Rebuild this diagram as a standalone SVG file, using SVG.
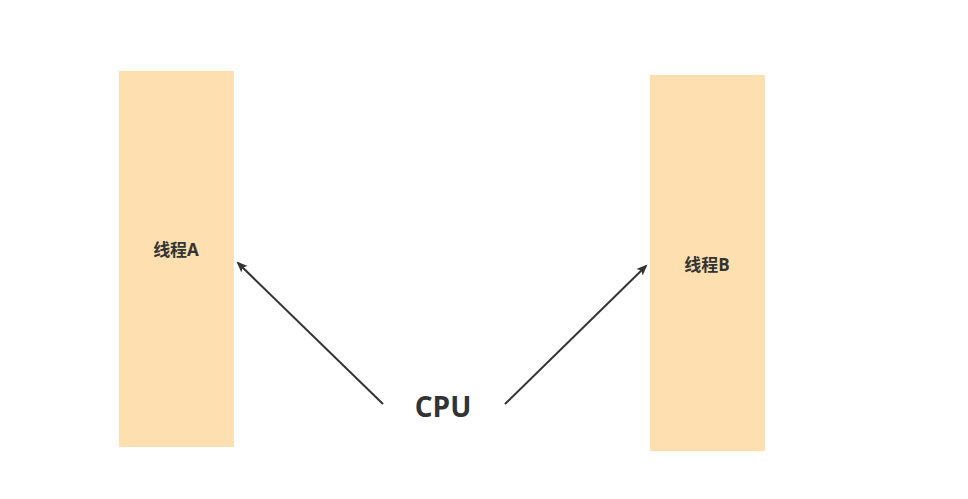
<svg xmlns="http://www.w3.org/2000/svg" width="968" height="499" viewBox="0 0 968 499">
<style>
.box{fill:#FDDFB0;stroke:none}
.lbl{font-family:"Open Sans","Noto Sans CJK SC",sans-serif;font-weight:bold;font-size:17px;fill:#333;text-anchor:middle}
.cpu{font-family:"Open Sans","Noto Sans CJK SC",sans-serif;font-weight:bold;font-size:28px;fill:#333;text-anchor:middle}
.edge{stroke:#333;stroke-width:2;fill:none}
</style>
<defs>
<marker id="arr" markerWidth="12" markerHeight="12" refX="9" refY="6" orient="auto" markerUnits="userSpaceOnUse">
<path d="M0,1.5 L11,6 L0,10.5 L2.5,6 Z" fill="#333"/>
</marker>
</defs>
<rect width="968" height="499" fill="#fff"/>
<g id="threadA">
<rect class="box" x="119" y="71" width="115" height="376"/>
<text class="lbl" x="176" y="256">线程A</text>
</g>
<g id="threadB">
<rect class="box" x="650" y="75" width="115" height="376"/>
<text class="lbl" x="707" y="271">线程B</text>
</g>
<g id="cpu">
<text class="cpu" x="443" y="417">CPU</text>
</g>
<g id="connectors">
<path class="edge" d="M383,404 L238,263" marker-end="url(#arr)"/>
<path class="edge" d="M505,404 L646,266" marker-end="url(#arr)"/>
</g>
</svg>
